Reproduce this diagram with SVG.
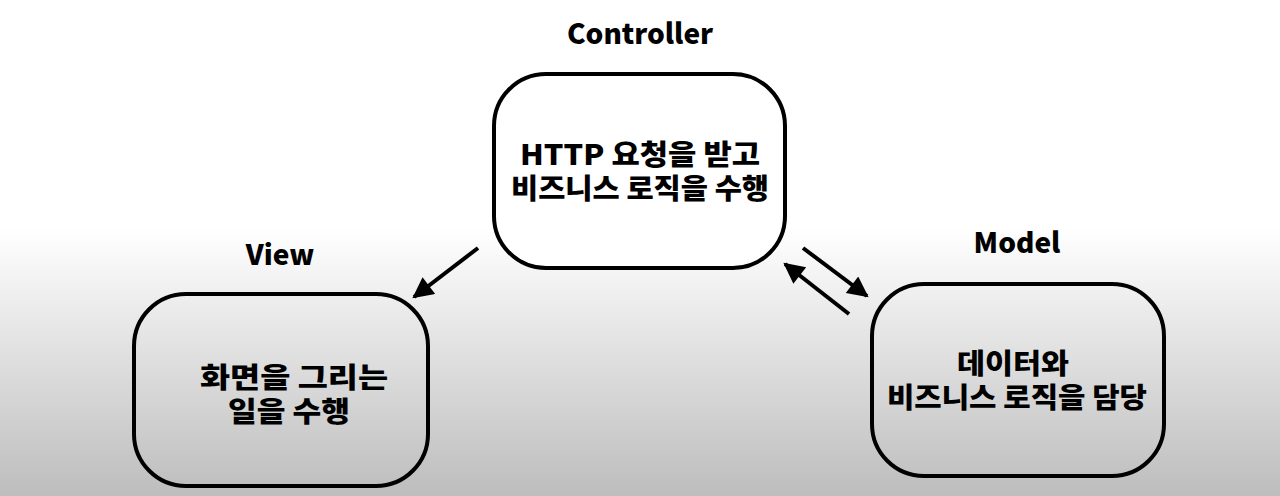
<svg xmlns="http://www.w3.org/2000/svg" width="1280" height="496" viewBox="0 0 1280 496">
<defs>
<linearGradient id="bg" x1="0" y1="0" x2="0" y2="1">
<stop offset="0" stop-color="#ffffff"/>
<stop offset="0.46" stop-color="#ffffff"/>
<stop offset="1" stop-color="#bdbdbd"/>
</linearGradient>
<marker id="ah" viewBox="0 0 10 10" refX="9" refY="5" markerWidth="6" markerHeight="5.2" orient="auto" markerUnits="strokeWidth">
<path d="M0,0 L10,5 L0,10 z" fill="#000"/>
</marker>
<style>
.box{fill:none;stroke:#000;stroke-width:4}
.title{font-family:"Noto Sans CJK KR","Liberation Sans",sans-serif;font-weight:900;font-size:28px;fill:#000;text-anchor:middle}
.body{font-family:"Noto Sans CJK KR","Liberation Sans",sans-serif;font-weight:900;font-size:28px;fill:#000;text-anchor:middle}
.conn{stroke:#000;stroke-width:4;fill:none;marker-end:url(#ah)}
</style>
</defs>
<rect width="1280" height="496" fill="url(#bg)"/>
<g id="controller">
<text class="title" x="640" y="44">Controller</text>
<rect class="box" x="494" y="74" width="291" height="194" rx="52" style="fill:#fff"/>
<text class="body"><tspan x="640" y="165" textLength="240" lengthAdjust="spacingAndGlyphs">HTTP 요청을 받고</tspan><tspan x="640" y="199" textLength="258" lengthAdjust="spacingAndGlyphs">비즈니스 로직을 수행</tspan></text>
</g>
<g id="view">
<text class="title" x="280" y="265">View</text>
<rect class="box" x="134" y="294" width="294" height="192" rx="52"/>
<text class="body"><tspan x="294" y="388" textLength="188" lengthAdjust="spacingAndGlyphs">화면을 그리는</tspan><tspan x="289" y="422" textLength="122" lengthAdjust="spacingAndGlyphs">일을 수행</tspan></text>
</g>
<g id="model">
<text class="title" x="1017" y="253">Model</text>
<rect class="box" x="872" y="284" width="292" height="192" rx="52"/>
<text class="body"><tspan x="1013" y="374" textLength="112" lengthAdjust="spacingAndGlyphs">데이터와</tspan><tspan x="1017" y="408" textLength="260" lengthAdjust="spacingAndGlyphs">비즈니스 로직을 담당</tspan></text>
</g>
<g id="connectors">
<line class="conn" x1="478" y1="248" x2="414" y2="297"/>
<line class="conn" x1="803" y1="248" x2="867" y2="296"/>
<line class="conn" x1="849" y1="314" x2="785" y2="264"/>
</g>
</svg>
